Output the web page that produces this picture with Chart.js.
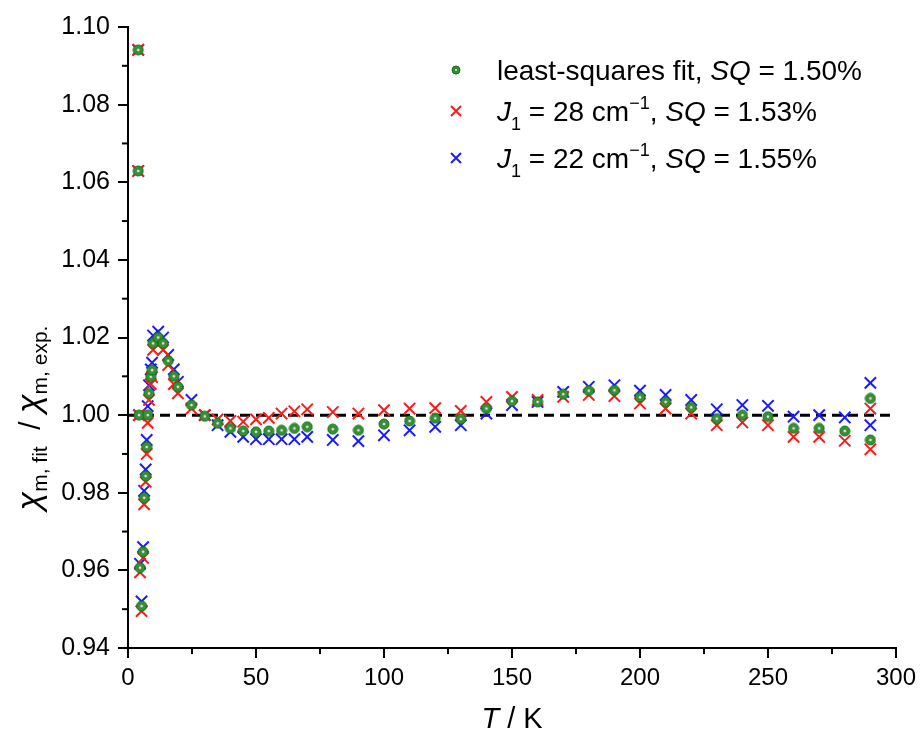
<!DOCTYPE html>
<html>
<head>
<meta charset="utf-8">
<script src="https://cdn.jsdelivr.net/npm/chart.js@4/dist/chart.umd.min.js"></script>
<style>
  html, body { margin: 0; padding: 0; background: #fff; }
  #wrap { width: 922px; height: 735px; position: relative; }
</style>
</head>
<body>
<div id="wrap"><canvas id="chart" width="922" height="735"></canvas></div>
<script>
// temperatures (K) shared by all three series
const tempK = [4.0, 4.0, 4.3, 4.7, 5.3, 5.9, 6.3, 6.9, 7.3, 7.7, 8.2, 8.9, 9.4, 9.8, 11.8, 13.7, 15.7, 17.9, 19.5, 24.8,
    30, 35, 40, 45, 50, 55, 60, 65, 70, 80, 90, 100, 110, 120, 130, 140, 150, 160, 170, 180, 190,
    200, 210, 220, 230, 240, 250, 260, 270, 280, 290, 290];

// least-squares fit, SQ = 1.50%
const fitLsq = [1.0941, 1.0629, 1.0000, 0.9607, 0.9508, 0.9648, 0.9787, 0.9843, 0.9918, 1.0000, 1.0056, 1.0099, 1.0116, 1.0185, 1.0200, 1.0185, 1.0140, 1.0100, 1.0073, 1.0026,
    0.9997, 0.9979, 0.9966, 0.9959, 0.9957, 0.9959, 0.9961, 0.9966, 0.9970, 0.9964, 0.9961, 0.9977, 0.9985, 0.9992, 0.9990, 1.0017, 1.0036, 1.0034, 1.0054, 1.0063, 1.0064,
    1.0046, 1.0034, 1.0020, 0.9991, 1.0000, 0.9996, 0.9966, 0.9966, 0.9959, 1.0043, 0.9936];

// J1 = 28 cm-1, SQ = 1.53%
const fitJ28 = [1.0941, 1.0629, 1.0000, 0.9595, 0.9495, 0.9632, 0.9770, 0.9828, 0.9900, 0.9980, 1.0039, 1.0080, 1.0098, 1.0168, 1.0185, 1.0168, 1.0129, 1.0080, 1.0056, 1.0017,
    1.0000, 0.9989, 0.9985, 0.9983, 0.9989, 0.9993, 1.0004, 1.0010, 1.0015, 1.0008, 1.0004, 1.0013, 1.0017, 1.0018, 1.0011, 1.0034, 1.0047, 1.0039, 1.0047, 1.0052, 1.0049,
    1.0030, 1.0017, 1.0004, 0.9974, 0.9981, 0.9974, 0.9944, 0.9944, 0.9934, 1.0017, 0.9912];

// J1 = 22 cm-1, SQ = 1.55%
const fitJ22 = [1.0941, 1.0629, 1.0000, 0.9617, 0.9520, 0.9660, 0.9805, 0.9860, 0.9936, 1.0023, 1.0077, 1.0118, 1.0135, 1.0205, 1.0215, 1.0200, 1.0155, 1.0118, 1.0086, 1.0039,
    1.0000, 0.9974, 0.9957, 0.9944, 0.9938, 0.9938, 0.9938, 0.9938, 0.9944, 0.9936, 0.9933, 0.9948, 0.9961, 0.9970, 0.9974, 1.0004, 1.0026, 1.0034, 1.0060, 1.0073, 1.0077,
    1.0063, 1.0052, 1.0039, 1.0015, 1.0026, 1.0024, 0.9996, 1.0000, 0.9994, 1.0083, 0.9974];

// reference line at ratio 1
const refX = [0, 300];
const refY = [1, 1];

const xTicks = [0, 50, 100, 150, 200, 250, 300];
const yTicks = [0.94, 0.96, 0.98, 1.00, 1.02, 1.04, 1.06, 1.08, 1.10];

const FONT = "'Liberation Sans', Arial, sans-serif";
const RED = "#ff1a1a";
const BLUE = "#1a1aff";

const toPoints = (xs, ys) => xs.map((x, i) => ({ x: x, y: ys[i] }));

/* -------------------- MARKER -------------------- */
function makeDotCircle(r) {
    const c = document.createElement("canvas");
    const s = Math.ceil(r * 2 + 2);
    c.width = s; c.height = s;
    const g = c.getContext("2d");
    g.beginPath();
    g.arc(s / 2, s / 2, r, 0, Math.PI * 2);
    g.fillStyle = "#2f9a2f";
    g.fill();
    g.lineWidth = 1;
    g.strokeStyle = "#156c15";
    g.stroke();
    g.beginPath();
    g.arc(s / 2, s / 2, r * 0.4, 0, Math.PI * 2);
    g.fillStyle = "#d9e6d9";
    g.fill();
    g.lineWidth = 0.8;
    g.strokeStyle = "#2b5a2b";
    g.stroke();
    return c;
}
const dotCircle = makeDotCircle(5);
const legendDot = makeDotCircle(4);

/* -------------------- RICH TEXT -------------------- */
function drawRich(ctx, x, y, parts, align) {
    let w = 0;
    parts.forEach(p => {
        ctx.font = `${p.italic ? "italic " : ""}${p.size}px ${FONT}`;
        p.w = ctx.measureText(p.t).width;
        w += p.w;
    });
    let cx = align === "center" ? x - w / 2 : x;
    ctx.textBaseline = "alphabetic";
    ctx.textAlign = "left";
    ctx.fillStyle = "#000";
    parts.forEach(p => {
        ctx.font = `${p.italic ? "italic " : ""}${p.size}px ${FONT}`;
        ctx.fillText(p.t, cx, y + (p.dy || 0));
        cx += p.w;
    });
}

/* -------------------- DECORATION PLUGIN -------------------- */
const decoPlugin = {
    id: "deco",
    afterDraw(chart) {
        const ctx = chart.ctx;
        const xs = chart.scales.x, ys = chart.scales.y;
        ctx.save();
        ctx.strokeStyle = "#000";
        ctx.lineWidth = 2;

        // minor ticks
        for (let i = 0; i < xTicks.length - 1; i++) {
            const px = xs.getPixelForValue((xTicks[i] + xTicks[i + 1]) / 2);
            ctx.beginPath();
            ctx.moveTo(px, xs.top);
            ctx.lineTo(px, xs.top + 6);
            ctx.stroke();
        }
        for (let i = 0; i < yTicks.length - 1; i++) {
            const py = ys.getPixelForValue((yTicks[i] + yTicks[i + 1]) / 2);
            ctx.beginPath();
            ctx.moveTo(ys.right, py);
            ctx.lineTo(ys.right - 6, py);
            ctx.stroke();
        }

        // x axis title
        drawRich(ctx, (xs.left + xs.right) / 2, 728, [
            { t: "T", italic: true, size: 29 },
            { t: " / K", size: 29 }
        ], "center");

        // y axis title (rotated)
        ctx.save();
        ctx.translate(40, 418);
        ctx.rotate(-Math.PI / 2);
        drawRich(ctx, 0, 0, [
            { t: "\u03c7", italic: true, size: 34 },
            { t: "m, fit", size: 21, dy: 7 },
            { t: "  / ", size: 30 },
            { t: "\u03c7", italic: true, size: 34 },
            { t: "m, exp.", size: 21, dy: 7 }
        ], "center");
        ctx.restore();

        // legend
        const rows = [
            { y: 70, mark: "dot", parts: [
                { t: "least-squares fit, ", size: 28 },
                { t: "SQ", italic: true, size: 28 },
                { t: " = 1.50%", size: 28 }] },
            { y: 111, mark: RED, parts: [
                { t: "J", italic: true, size: 28 },
                { t: "1", size: 18, dy: 9 },
                { t: " = 28 cm", size: 28 },
                { t: "\u22121", size: 18, dy: -12 },
                { t: ", ", size: 28 },
                { t: "SQ", italic: true, size: 28 },
                { t: " = 1.53%", size: 28 }] },
            { y: 158, mark: BLUE, parts: [
                { t: "J", italic: true, size: 28 },
                { t: "1", size: 18, dy: 9 },
                { t: " = 22 cm", size: 28 },
                { t: "\u22121", size: 18, dy: -12 },
                { t: ", ", size: 28 },
                { t: "SQ", italic: true, size: 28 },
                { t: " = 1.55%", size: 28 }] }
        ];
        rows.forEach(r => {
            if (r.mark === "dot") {
                ctx.drawImage(legendDot, 456 - legendDot.width / 2, r.y - legendDot.height / 2);
            } else {
                ctx.strokeStyle = r.mark;
                ctx.lineWidth = 2;
                ctx.beginPath();
                ctx.moveTo(451, r.y - 5); ctx.lineTo(461, r.y + 5);
                ctx.moveTo(461, r.y - 5); ctx.lineTo(451, r.y + 5);
                ctx.stroke();
            }
            drawRich(ctx, 497, r.y + 10, r.parts, "left");
        });
        ctx.restore();
    }
};

/* -------------------- CHART -------------------- */
const axisCommon = {
    type: "linear",
    border: { display: true, color: "#000", width: 2 },
    grid: { display: true, drawOnChartArea: false, drawTicks: true, tickLength: 10, color: "#000", lineWidth: 2 },
    ticks: { color: "#000", font: { family: FONT, size: 24 } }
};

new Chart(document.getElementById("chart"), {
    type: "scatter",
    data: {
        datasets: [
            {
                label: "least-squares fit",
                data: toPoints(tempK, fitLsq),
                pointStyle: dotCircle,
                order: 0
            },
            {
                label: "J1 = 28",
                data: toPoints(tempK, fitJ28),
                pointStyle: "crossRot",
                pointRadius: 8,
                borderColor: RED,
                borderWidth: 2,
                order: 1
            },
            {
                label: "J1 = 22",
                data: toPoints(tempK, fitJ22),
                pointStyle: "crossRot",
                pointRadius: 8,
                borderColor: BLUE,
                borderWidth: 2,
                order: 2
            },
            {
                type: "line",
                label: "ref",
                data: toPoints(refX, refY),
                borderColor: "#000",
                borderWidth: 3,
                borderDash: [10, 6],
                pointRadius: 0,
                order: 3
            }
        ]
    },
    options: {
        responsive: false,
        animation: false,
        layout: { padding: { left: 0, top: 27, right: 22, bottom: 0 } },
        plugins: { legend: { display: false }, tooltip: { enabled: false } },
        scales: {
            x: {
                ...axisCommon,
                min: 0, max: 300,
                ticks: { ...axisCommon.ticks, padding: 6, maxRotation: 0 },
                afterBuildTicks: s => { s.ticks = xTicks.map(v => ({ value: v })); },
                afterFit: s => { s.height = 87; }
            },
            y: {
                ...axisCommon,
                min: 0.94, max: 1.10,
                ticks: { ...axisCommon.ticks, font: { family: FONT, size: 25 }, padding: 8, callback: v => v.toFixed(2) },
                afterBuildTicks: s => { s.ticks = yTicks.map(v => ({ value: v })); },
                afterFit: s => { s.width = 128; }
            }
        }
    },
    plugins: [decoPlugin]
});
</script>
</body>
</html>
